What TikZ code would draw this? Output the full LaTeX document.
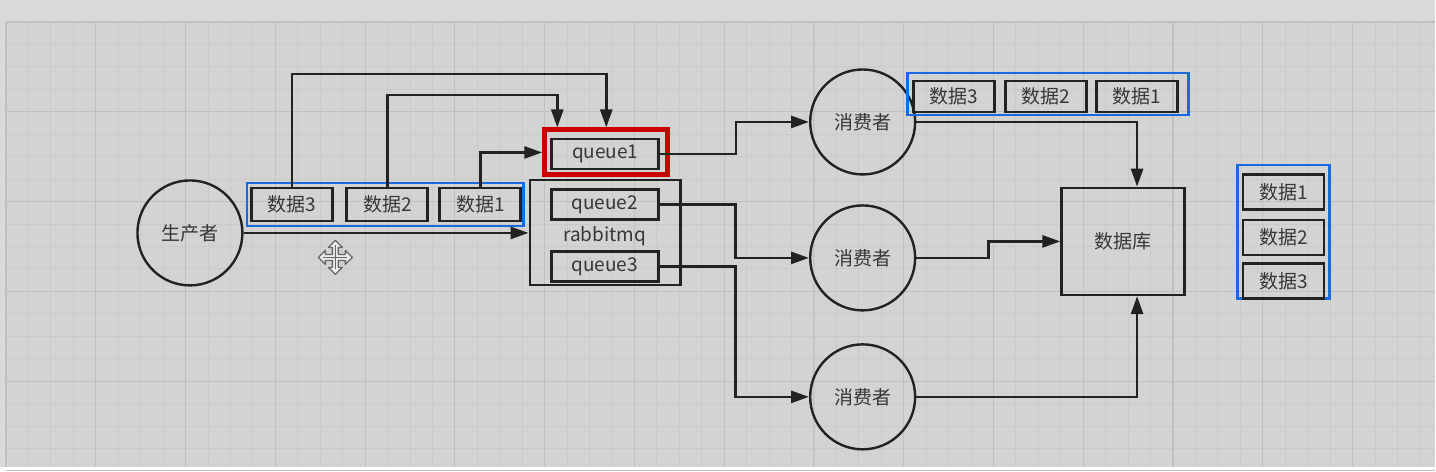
\documentclass[tikz,border=0pt]{standalone}
\usepackage{fontspec}
\setmainfont{Noto Sans CJK SC}
\usetikzlibrary{arrows.meta}
\definecolor{bgc}{RGB}{211,211,211}
\definecolor{outc}{RGB}{217,217,217}
\definecolor{minorc}{RGB}{202,202,202}
\definecolor{majorc}{RGB}{192,192,192}
\definecolor{ink}{RGB}{34,34,34}
\definecolor{txt}{RGB}{55,55,55}
\definecolor{grpblue}{RGB}{25,105,225}
\definecolor{hotred}{RGB}{205,0,0}
\tikzset{
  lbl/.style={font=\fontsize{19}{22}\selectfont, text=txt},
  databox/.style={lbl, draw=ink, line width=2.8pt, minimum width=81pt, minimum height=33pt, inner sep=0pt},
  qbox/.style={lbl, draw=ink, line width=2.6pt, minimum width=107pt, minimum height=30pt, inner sep=0pt},
  grp/.style={draw=grpblue, line width=2.8pt, inner sep=0pt},
  actor/.style={lbl, draw=ink, line width=2.4pt, circle, minimum size=105pt, inner sep=0pt},
  conn/.style={draw=ink, line width=2.7pt, -{Triangle[length=18pt,width=12pt]}},
  gridminor/.style={draw=minorc, line width=0.8pt},
  gridmajor/.style={draw=majorc, line width=1.1pt},
}
\begin{document}
\begin{tikzpicture}[x=1pt,y=-1pt]
% background and grid
\fill[outc] (0,0) rectangle (1436,467);
\fill[bgc] (6,22) rectangle (1436,467);
\foreach \i in {1,...,63} {
  \pgfmathsetmacro{\xx}{6+\i*22.45}
  \draw[gridminor] (\xx,22) -- (\xx,467);
}
\foreach \j in {1,...,20} {
  \pgfmathsetmacro{\yy}{22+\j*22.45}
  \draw[gridminor] (6,\yy) -- (1436,\yy);
}
\foreach \i in {0,...,15} {
  \pgfmathsetmacro{\xx}{6+\i*89.8}
  \draw[gridmajor] (\xx,22) -- (\xx,467);
}
\foreach \j in {0,...,5} {
  \pgfmathsetmacro{\yy}{22+\j*89.8}
  \draw[gridmajor] (6,\yy) -- (1436,\yy);
}

% producer
\node[actor] (prod) at (190,233) {生产者};

% producer data group
\node[grp, minimum width=277pt, minimum height=43pt] (g1) at (385.5,204.5) {};
\node[databox] (d3a) at (292,204.5) {数据3};
\node[databox] (d2a) at (387.5,204.5) {数据2};
\node[databox] (d1a) at (480.5,204.5) {数据1};

% rabbitmq
\node[draw=hotred, line width=5pt, minimum width=123pt, minimum height=45pt, inner sep=0pt] (q1r) at (606.5,152.5) {};
\node[qbox] (q1) at (605.5,154) {queue1};
\node[draw=ink, line width=2.5pt, minimum width=151pt, minimum height=105pt, inner sep=0pt] (rmq) at (605.5,232.5) {};
\node[qbox] (q2) at (605,204.5) {queue2};
\node[lbl] (rmqlbl) at (605,236) {rabbitmq};
\node[qbox] (q3) at (605,266.5) {queue3};

% consumers
\node[actor] (c1) at (863,122) {消费者};
\node[actor] (c2) at (863,258) {消费者};
\node[actor] (c3) at (863,397) {消费者};

% consumer data group
\node[grp, minimum width=281pt, minimum height=42pt] (g2) at (1048.5,94) {};
\node[databox, minimum height=31pt] (e3) at (954.5,96.5) {数据3};
\node[databox, minimum height=31pt] (e2) at (1046.5,96.5) {数据2};
\node[databox, minimum height=31pt] (e1) at (1137.5,96.5) {数据1};

% database
\node[lbl, draw=ink, line width=2.5pt, minimum width=123pt, minimum height=107pt, inner sep=0pt] (db) at (1123.5,241.5) {数据库};

% database data group
\node[grp, minimum width=92pt, minimum height=134pt] (g3) at (1284,232) {};
\node[databox, minimum height=35pt] (f1) at (1284,192) {数据1};
\node[databox, minimum height=35pt] (f2) at (1284,237.5) {数据2};
\node[databox, minimum height=35pt] (f3) at (1284,281) {数据3};

% waypoints
\coordinate (top3) at (0,74);
\coordinate (top2) at (0,95);

% connectors
\draw[conn] (prod.east) -- (prod.east -| rmq.west);
\draw[conn] (d3a.north) -- (d3a.north |- top3) -| (q1r.north);
\draw[conn] (d2a.north) -- (d2a.north |- top2) -| ([xshift=15pt]q1r.north west);
\draw[conn] (d1a.north) |- (q1r.west);
\draw[conn] (q1.east) -- ++(76,0) |- (c1.west);
\draw[conn] (q2.east) -- ++(76,0) |- (c2.west);
\draw[conn] (q3.east) -- ++(76,0) |- (c3.west);
\draw[conn] (c1.east) -| ([xshift=14pt]db.north);
\draw[conn] (c2.east) -- ++(72,0) |- (db.west);
\draw[conn] (c3.east) -| ([xshift=14pt]db.south);

% move cursor
\begin{scope}[shift={(335.5,257.5)}]
\draw[draw=black!60, line width=1.3pt, fill=black!8, line join=round]
  (0,-17) -- (7,-10) -- (3,-10) -- (3,-3) -- (10,-3) -- (10,-7) -- (17,0) -- (10,7) -- (10,3)
  -- (3,3) -- (3,10) -- (7,10) -- (0,17) -- (-7,10) -- (-3,10) -- (-3,3) -- (-10,3) -- (-10,7)
  -- (-17,0) -- (-10,-7) -- (-10,-3) -- (-3,-3) -- (-3,-10) -- (-7,-10) -- cycle;
\draw[draw=black!60, line width=1pt] (0,-12) -- (0,12) (-12,0) -- (12,0);
\end{scope}
\end{tikzpicture}
\end{document}
